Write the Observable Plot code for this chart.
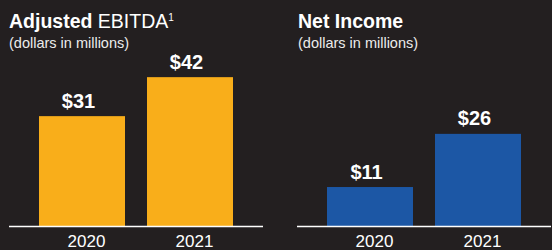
<!DOCTYPE html>
<html>
<head>
<meta charset="utf-8">
<script src="https://cdn.jsdelivr.net/npm/d3@7"></script>
<script src="https://cdn.jsdelivr.net/npm/@observablehq/plot@0.6"></script>
<style>
  html, body { margin: 0; padding: 0; background: #231f20; }
  #wrap { position: relative; width: 552px; height: 250px; overflow: hidden; background: #231f20; }
  .title { position: absolute; color: #ffffff; font-family: "Liberation Sans", Arial, sans-serif; white-space: nowrap; }
  .title .main { font-size: 19.5px; line-height: 20px; }
  .title .main b { font-weight: 700; }
  .title .main span { font-weight: 400; }
  .title .main sup { font-size: 10px; vertical-align: 7px; line-height: 0; }
  .title .sub { font-size: 14.5px; line-height: 14.5px; margin-top: 5px; color: #ececec; }
</style>
</head>
<body>
<div id="wrap">
  <div class="title" style="left:9px; top:11px;">
    <div class="main"><b>Adjusted</b><span> EBITDA</span><sup>1</sup></div>
    <div class="sub">(dollars in millions)</div>
  </div>
  <div class="title" style="left:298px; top:11px;">
    <div class="main"><b>Net Income</b></div>
    <div class="sub">(dollars in millions)</div>
  </div>
</div>
<script>
const panels = ["Adjusted EBITDA", "Net Income"];
const years = ["2020", "2021"];
const ebitda = [31, 42];
const netIncome = [11, 26];
const colors = ["#f9ae1a", "#1c57a5"];

const data = [
  ...years.map((y, i) => ({panel: panels[0], year: y, value: ebitda[i]})),
  ...years.map((y, i) => ({panel: panels[1], year: y, value: netIncome[i]}))
];

const chart = Plot.plot({
  width: 552,
  height: 250,
  marginLeft: 9,
  marginRight: 0,
  marginTop: 48.8,
  marginBottom: 24,
  style: {background: "transparent", color: "#ffffff", fontFamily: "'Liberation Sans', Arial, sans-serif"},
  fx: {domain: panels, paddingInner: 0.118, paddingOuter: 0, axis: null, label: null},
  x: {domain: years, paddingInner: 0.2, paddingOuter: 0.27, label: null},
  y: {domain: [0, 50], axis: null},
  color: {domain: panels, range: colors},
  marks: [
    Plot.barY(data, {fx: "panel", x: "year", y: "value", fill: "panel"}),
    Plot.ruleY([0], {stroke: "#ffffff", strokeWidth: 1.5}),
    Plot.text(data, {fx: "panel", x: "year", y: "value", text: d => "$" + d.value,
      lineAnchor: "bottom", dy: -9, dx: -4, fontSize: 20, fontWeight: 700, fill: "#ffffff"}),
    Plot.axisX({tickSize: 0, tickPadding: 8, dx: 4, fontSize: 17, label: null, fill: "#ffffff"})
  ]
});
chart.style.position = "absolute";
chart.style.left = "0";
chart.style.top = "0";
document.getElementById("wrap").prepend(chart);
</script>
</body>
</html>
